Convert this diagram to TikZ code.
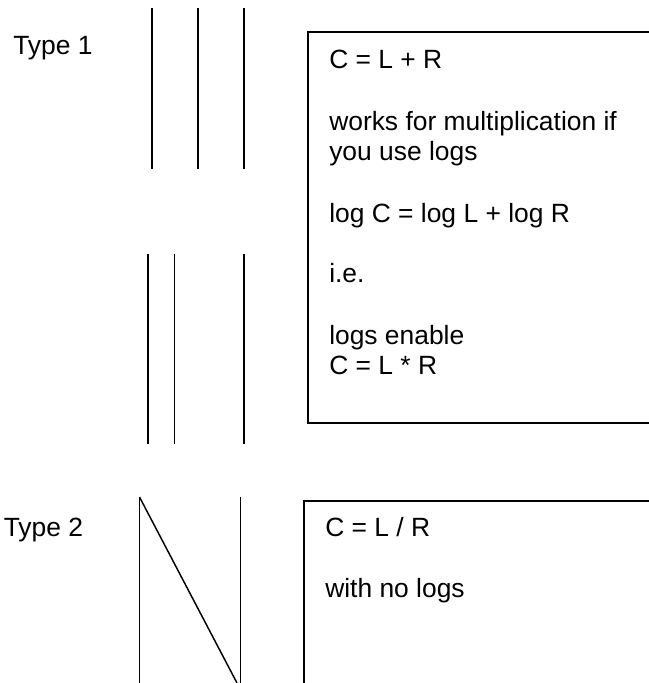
\documentclass[tikz,border=0pt]{standalone}
\usepackage{fontspec}
\setmainfont{Liberation Sans}
\begin{document}
\begin{tikzpicture}[x=0.75pt,y=-0.75pt,
  txt/.style={anchor=base west,inner sep=0pt,font=\fontsize{19.8pt}{23pt}\selectfont},
  bar/.style={line width=1.1pt},
  frame/.style={line width=1.2pt}]
\useasboundingbox (0,0) rectangle (649,683);
\clip (0,0) rectangle (649,683);
% Type 1
\node[txt] (t1) at (13,54) {Type 1};
\draw[bar] (152,8) -- (152,169);
\draw[bar] (198,8) -- (198,169);
\draw[bar] (244,8) -- (244,169);
\draw[bar] (148,254) -- (148,444);
\draw[bar] (174.5,254) -- (174.5,444);
\draw[bar] (244,254) -- (244,444);
\draw[frame] (308,32) rectangle (670,423);
\node[txt] (a1) at (329,68) {C = L + R};
\node[txt] (a2) at (329,130) {works for multiplication if};
\node[txt] (a3) at (329,160) {you use logs};
\node[txt] (a4) at (329,222) {log C = log L + log R};
\node[txt] (a5) at (329,282) {i.e.};
\node[txt] (a6) at (329,344) {logs enable};
\node[txt] (a7) at (329,374) {C = L * R};
% Type 2
\node[txt] (t2) at (3.5,536) {Type 2};
\draw[bar] (139.5,497) -- (139.5,690);
\draw[bar] (139.5,497) -- (237,683);
\draw[bar] (240.5,497) -- (240.5,690);
\draw[frame] (304,501) rectangle (670,700);
\node[txt] (b1) at (325,536) {C = L / R};
\node[txt] (b2) at (325,597) {with no logs};
\end{tikzpicture}
\end{document}
